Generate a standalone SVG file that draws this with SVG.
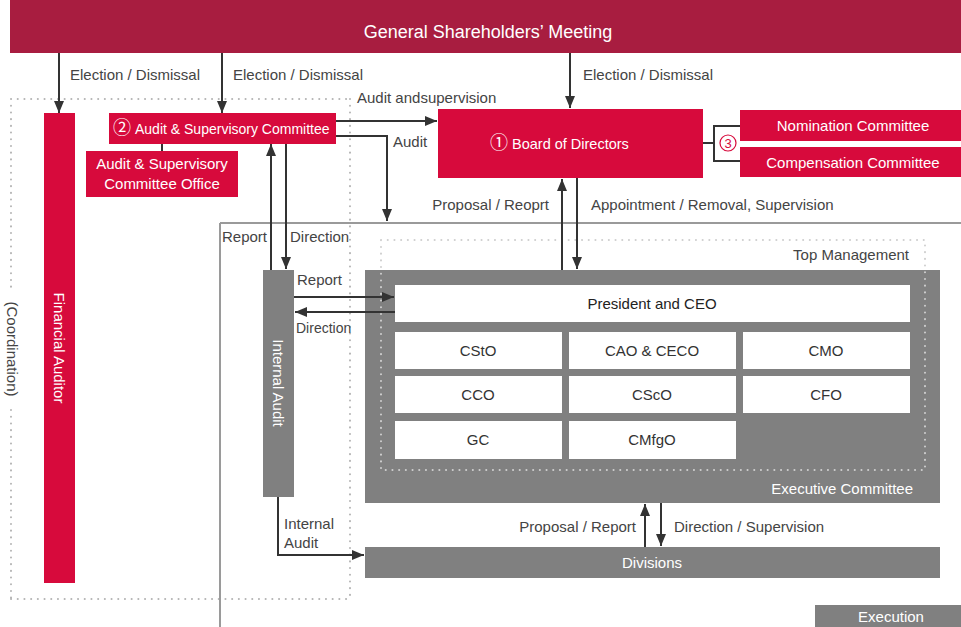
<svg xmlns="http://www.w3.org/2000/svg" width="961" height="627" viewBox="0 0 961 627">
<style>
text{font-family:"Liberation Sans",Arial,sans-serif;}
.lbl{font-size:15px;fill:#444;}
.wt{font-size:15px;fill:#fff;}
.dk{font-size:15px;fill:#333;}
.red{fill:#d70a3c;}
.gray{fill:#808080;}
.wb{fill:#fff;}
.ln{fill:none;stroke:#333;stroke-width:2;}
.arr{fill:none;stroke:#333;stroke-width:2;marker-end:url(#ah);}
.dot{fill:none;stroke:#b4b4b4;stroke-width:2;stroke-linecap:round;stroke-dasharray:0.1 6.6;}
.dotl{fill:none;stroke:#cfcfcf;stroke-width:2;stroke-linecap:round;stroke-dasharray:0.1 6.6;}
.circ{font-family:"Noto Sans CJK JP",sans-serif;font-size:18px;}
</style>
<defs>
<marker id="ah" viewBox="0 0 12 10" markerWidth="12" markerHeight="10" refX="12" refY="5" orient="auto" markerUnits="userSpaceOnUse">
<path d="M0,0 L12,5 L0,10 z" fill="#333"/>
</marker>
</defs>
<rect width="961" height="627" fill="#fff"/>

<g id="frames">
<path class="dot" d="M11,99 H350 M350,99 V599 M11,599 H350 M11,99 V288 M11,410 V599"/>
<path d="M220,223 H961 M220,223 V627" fill="none" stroke="#9a9a9a" stroke-width="2"/>
<text class="lbl" x="357" y="103">Audit andsupervision</text>
<text class="lbl" transform="translate(7,349) rotate(90)" text-anchor="middle">(Coordination)</text>
</g>

<g id="gsm">
<rect x="10" y="0" width="951" height="53" fill="#a81d40"/>
<text x="488" y="38" text-anchor="middle" style="font-size:18px;fill:#fff">General Shareholders’ Meeting</text>
</g>

<g id="financial-auditor">
<rect class="red" x="44" y="113" width="31" height="470"/>
<text class="wt" transform="translate(54,348) rotate(90)" text-anchor="middle">Financial Auditor</text>
</g>

<g id="audit-committee">
<rect class="red" x="109" y="113" width="227" height="31"/>
<text class="wt" x="113" y="134" style="font-size:14px"><tspan class="circ">②</tspan><tspan x="135">Audit &amp; Supervisory Committee</tspan></text>
</g>

<g id="audit-office">
<rect class="red" x="86" y="151" width="152" height="46"/>
<text class="wt" x="162" y="169" text-anchor="middle">Audit &amp; Supervisory</text>
<text class="wt" x="162" y="189" text-anchor="middle">Committee Office</text>
</g>

<g id="board">
<rect class="red" x="438" y="109" width="265" height="69"/>
<text class="wt" x="490" y="149" style="font-size:14.5px"><tspan class="circ">①</tspan><tspan x="512">Board of Directors</tspan></text>
</g>

<g id="nomination">
<rect class="red" x="740" y="110" width="221" height="31"/>
<text class="wt" x="853" y="131" text-anchor="middle">Nomination Committee</text>
</g>

<g id="compensation">
<rect class="red" x="740" y="147" width="221" height="30"/>
<text class="wt" x="853" y="168" text-anchor="middle">Compensation Committee</text>
</g>

<g id="exec-committee">
<rect class="gray" x="365" y="270" width="575" height="233"/>
<text x="913" y="494" text-anchor="end" style="font-size:15px;fill:#fff">Executive Committee</text>
</g>

<g id="president">
<rect class="wb" x="395" y="285" width="515" height="37"/>
<text class="dk" x="652" y="309" text-anchor="middle" style="fill:#222">President and CEO</text>
</g>
<g id="csto"><rect class="wb" x="395" y="332" width="167" height="37"/><text class="dk" x="478" y="356" text-anchor="middle">CStO</text></g>
<g id="cao"><rect class="wb" x="569" y="332" width="167" height="37"/><text class="dk" x="652" y="356" text-anchor="middle">CAO &amp; CECO</text></g>
<g id="cmo"><rect class="wb" x="743" y="332" width="167" height="37"/><text class="dk" x="826" y="356" text-anchor="middle">CMO</text></g>
<g id="cco"><rect class="wb" x="395" y="376" width="167" height="37"/><text class="dk" x="478" y="400" text-anchor="middle">CCO</text></g>
<g id="csco"><rect class="wb" x="569" y="376" width="167" height="37"/><text class="dk" x="652" y="400" text-anchor="middle">CScO</text></g>
<g id="cfo"><rect class="wb" x="743" y="376" width="167" height="37"/><text class="dk" x="826" y="400" text-anchor="middle">CFO</text></g>
<g id="gc"><rect class="wb" x="395" y="421" width="167" height="38"/><text class="dk" x="478" y="445" text-anchor="middle">GC</text></g>
<g id="cmfgo"><rect class="wb" x="569" y="421" width="167" height="38"/><text class="dk" x="652" y="445" text-anchor="middle">CMfgO</text></g>

<g id="top-management">
<rect class="dotl" x="381" y="240" width="544" height="230"/>
<text class="lbl" x="909" y="260" text-anchor="end">Top Management</text>
</g>

<g id="internal-audit">
<rect class="gray" x="263" y="270" width="31" height="227"/>
<text class="wt" transform="translate(273,383) rotate(90)" text-anchor="middle">Internal Audit</text>
</g>

<g id="divisions">
<rect class="gray" x="365" y="547" width="575" height="31"/>
<text x="652" y="568" text-anchor="middle" style="font-size:15px;fill:#fff">Divisions</text>
</g>

<g id="execution">
<rect class="gray" x="815" y="605" width="146" height="22"/>
<text x="891" y="622" text-anchor="middle" style="font-size:15px;fill:#fff">Execution</text>
</g>

<g id="connectors">
<path class="arr" d="M59,53 V113"/>
<path class="arr" d="M222,53 V113"/>
<path class="arr" d="M570,53 V108"/>
<path class="arr" d="M336,121 H437"/>
<path class="arr" d="M336,136 H387 V221"/>
<path class="arr" d="M562,270 V179"/>
<path class="arr" d="M577,178 V269"/>
<path class="arr" d="M271,270 V144"/>
<path class="arr" d="M286,144 V269"/>
<path class="arr" d="M294,297 H394"/>
<path class="arr" d="M395,312 H295"/>
<path class="arr" d="M645,547 V504"/>
<path class="arr" d="M661,503 V546"/>
<path class="arr" d="M278,497 V555 H364"/>
<path class="ln" d="M162,144 V151"/>
<path class="ln" d="M703,143 H714 M740,126 H714 V161 H740"/>
<circle cx="728" cy="143" r="8" fill="#fff" stroke="#d70a3c" stroke-width="1.2"/>
<text x="728" y="148" text-anchor="middle" style="font-size:13px;fill:#d70a3c">3</text>
</g>

<g id="labels">
<text class="lbl" x="70" y="80">Election / Dismissal</text>
<text class="lbl" x="233" y="80">Election / Dismissal</text>
<text class="lbl" x="583" y="80">Election / Dismissal</text>
<text class="lbl" x="393" y="147">Audit</text>
<text class="lbl" x="549" y="210" text-anchor="end">Proposal / Reoprt</text>
<text class="lbl" x="591" y="210">Appointment / Removal, Supervision</text>
<text class="lbl" x="222" y="242">Report</text>
<text class="lbl" x="290" y="242">Direction</text>
<text class="lbl" x="297" y="285">Report</text>
<text class="lbl" x="296" y="333" style="font-size:14px">Direction</text>
<text class="lbl" x="636" y="532" text-anchor="end">Proposal / Report</text>
<text class="lbl" x="674" y="532">Direction / Supervision</text>
<text class="lbl" x="284" y="529">Internal</text>
<text class="lbl" x="284" y="548">Audit</text>
</g>
</svg>
